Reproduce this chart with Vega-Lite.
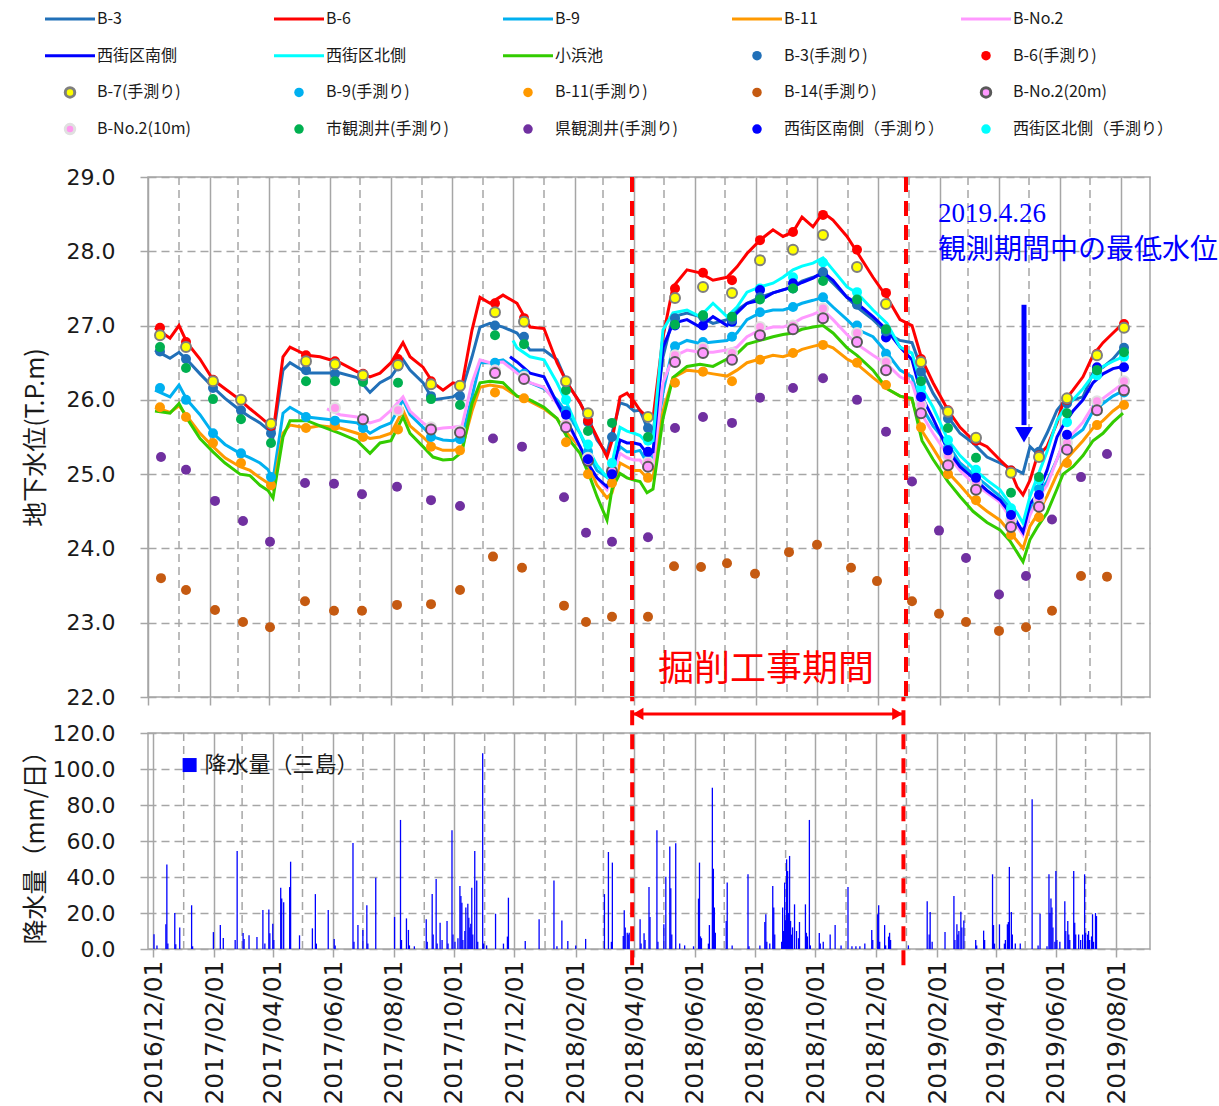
{
"$schema":"https://vega.github.io/schema/vega-lite/v6.json",
"background":"white",
"padding":{"left":22,"top":7,"right":0,"bottom":0},
"config":{
"view":{"stroke":"#A6A6A6","strokeWidth":1.5},
"axis":{"gridColor":"#A6A6A6","gridWidth":1.5,"tickColor":"#A6A6A6","tickWidth":1.5,"tickSize":8,"domain":false,"labelColor":"#1a1a1a","titleColor":"#1a1a1a","labelFont":"DejaVu Sans","titleFont":"Noto Sans CJK JP","titleFontWeight":"normal"}
},
"datasets":{
"months":[{"t":"2017/01/01"},{"t":"2017/03/01"},{"t":"2017/05/01"},{"t":"2017/07/01"},{"t":"2017/09/01"},{"t":"2017/11/01"},{"t":"2018/01/01"},{"t":"2018/03/01"},{"t":"2018/05/01"},{"t":"2018/07/01"},{"t":"2018/09/01"},{"t":"2018/11/01"},{"t":"2019/01/01"},{"t":"2019/03/01"},{"t":"2019/05/01"},{"t":"2019/07/01"}],
"cut":[{"t":"2018/03/30"},{"t":"2018/12/29"}],
"lines":[
{"t":"2016/12/08","s":"B-3","v":26.67},{"t":"2016/12/23","s":"B-3","v":26.56},{"t":"2017/01/01","s":"B-3","v":26.64},{"t":"2017/01/09","s":"B-3","v":26.54},{"t":"2017/01/22","s":"B-3","v":26.35},{"t":"2017/02/04","s":"B-3","v":26.17},{"t":"2017/02/16","s":"B-3","v":26.02},{"t":"2017/03/03","s":"B-3","v":25.86},{"t":"2017/03/13","s":"B-3","v":25.77},{"t":"2017/03/23","s":"B-3","v":25.69},{"t":"2017/03/31","s":"B-3","v":25.6},{"t":"2017/04/05","s":"B-3","v":25.5},{"t":"2017/04/15","s":"B-3","v":26.4},{"t":"2017/04/22","s":"B-3","v":26.5},{"t":"2017/05/09","s":"B-3","v":26.36},{"t":"2017/05/22","s":"B-3","v":26.36},{"t":"2017/06/11","s":"B-3","v":26.36},{"t":"2017/06/28","s":"B-3","v":26.3},{"t":"2017/07/11","s":"B-3","v":26.1},{"t":"2017/07/21","s":"B-3","v":26.23},{"t":"2017/08/01","s":"B-3","v":26.31},{"t":"2017/08/13","s":"B-3","v":26.54},{"t":"2017/08/20","s":"B-3","v":26.4},{"t":"2017/09/02","s":"B-3","v":26.23},{"t":"2017/09/12","s":"B-3","v":26.0},{"t":"2017/09/22","s":"B-3","v":26.02},{"t":"2017/10/02","s":"B-3","v":26.04},{"t":"2017/10/11","s":"B-3","v":26.13},{"t":"2017/10/21","s":"B-3","v":26.58},{"t":"2017/10/29","s":"B-3","v":26.98},{"t":"2017/11/08","s":"B-3","v":27.03},{"t":"2017/11/21","s":"B-3","v":26.98},{"t":"2017/12/05","s":"B-3","v":26.9},{"t":"2017/12/18","s":"B-3","v":26.67},{"t":"2018/01/01","s":"B-3","v":26.67},{"t":"2018/01/14","s":"B-3","v":26.54},{"t":"2018/01/24","s":"B-3","v":26.23},{"t":"2018/02/06","s":"B-3","v":25.96},{"t":"2018/02/16","s":"B-3","v":25.69},{"t":"2018/02/23","s":"B-3","v":25.46},{"t":"2018/03/05","s":"B-3","v":25.28},{"t":"2018/03/10","s":"B-3","v":25.55},{"t":"2018/03/18","s":"B-3","v":25.96},{"t":"2018/03/25","s":"B-3","v":25.93},{"t":"2018/04/01","s":"B-3","v":25.85},{"t":"2018/04/07","s":"B-3","v":25.86},{"t":"2018/04/14","s":"B-3","v":25.63},{"t":"2018/04/20","s":"B-3","v":25.55},{"t":"2018/04/30","s":"B-3","v":26.58},{"t":"2018/05/10","s":"B-3","v":27.12},{"t":"2018/05/24","s":"B-3","v":27.17},{"t":"2018/06/06","s":"B-3","v":27.12},{"t":"2018/06/19","s":"B-3","v":27.03},{"t":"2018/07/03","s":"B-3","v":27.08},{"t":"2018/07/13","s":"B-3","v":27.21},{"t":"2018/07/23","s":"B-3","v":27.3},{"t":"2018/08/05","s":"B-3","v":27.38},{"t":"2018/08/18","s":"B-3","v":27.44},{"t":"2018/08/28","s":"B-3","v":27.48},{"t":"2018/09/07","s":"B-3","v":27.52},{"t":"2018/09/16","s":"B-3","v":27.6},{"t":"2018/09/27","s":"B-3","v":27.65},{"t":"2018/10/07","s":"B-3","v":27.7},{"t":"2018/10/17","s":"B-3","v":27.57},{"t":"2018/10/31","s":"B-3","v":27.38},{"t":"2018/11/10","s":"B-3","v":27.25},{"t":"2018/11/26","s":"B-3","v":27.08},{"t":"2018/12/10","s":"B-3","v":26.9},{"t":"2018/12/23","s":"B-3","v":26.8},{"t":"2019/01/04","s":"B-3","v":26.77},{"t":"2019/01/14","s":"B-3","v":26.4},{"t":"2019/01/25","s":"B-3","v":26.09},{"t":"2019/02/09","s":"B-3","v":25.77},{"t":"2019/02/21","s":"B-3","v":25.55},{"t":"2019/03/06","s":"B-3","v":25.42},{"t":"2019/03/20","s":"B-3","v":25.23},{"t":"2019/04/02","s":"B-3","v":25.15},{"t":"2019/04/12","s":"B-3","v":25.08},{"t":"2019/04/19","s":"B-3","v":25.05},{"t":"2019/04/25","s":"B-3","v":25.01},{"t":"2019/05/02","s":"B-3","v":25.37},{"t":"2019/05/09","s":"B-3","v":25.28},{"t":"2019/05/19","s":"B-3","v":25.55},{"t":"2019/05/29","s":"B-3","v":25.86},{"t":"2019/06/04","s":"B-3","v":25.96},{"t":"2019/06/14","s":"B-3","v":26.0},{"t":"2019/06/24","s":"B-3","v":26.04},{"t":"2019/07/04","s":"B-3","v":26.36},{"t":"2019/07/14","s":"B-3","v":26.44},{"t":"2019/07/24","s":"B-3","v":26.55},{"t":"2019/08/03","s":"B-3","v":26.71},
{"t":"2016/12/08","s":"B-6","v":26.97},{"t":"2016/12/23","s":"B-6","v":26.83},{"t":"2017/01/01","s":"B-6","v":27.0},{"t":"2017/01/09","s":"B-6","v":26.77},{"t":"2017/01/22","s":"B-6","v":26.55},{"t":"2017/02/04","s":"B-6","v":26.27},{"t":"2017/02/16","s":"B-6","v":26.15},{"t":"2017/03/03","s":"B-6","v":26.0},{"t":"2017/03/13","s":"B-6","v":25.88},{"t":"2017/03/23","s":"B-6","v":25.77},{"t":"2017/03/31","s":"B-6","v":25.68},{"t":"2017/04/05","s":"B-6","v":25.55},{"t":"2017/04/15","s":"B-6","v":26.58},{"t":"2017/04/22","s":"B-6","v":26.71},{"t":"2017/05/09","s":"B-6","v":26.6},{"t":"2017/05/22","s":"B-6","v":26.58},{"t":"2017/06/11","s":"B-6","v":26.5},{"t":"2017/06/28","s":"B-6","v":26.38},{"t":"2017/07/11","s":"B-6","v":26.31},{"t":"2017/07/21","s":"B-6","v":26.36},{"t":"2017/08/01","s":"B-6","v":26.5},{"t":"2017/08/13","s":"B-6","v":26.77},{"t":"2017/08/20","s":"B-6","v":26.58},{"t":"2017/09/02","s":"B-6","v":26.44},{"t":"2017/09/12","s":"B-6","v":26.23},{"t":"2017/09/22","s":"B-6","v":26.13},{"t":"2017/10/02","s":"B-6","v":26.23},{"t":"2017/10/11","s":"B-6","v":26.2},{"t":"2017/10/21","s":"B-6","v":26.94},{"t":"2017/10/29","s":"B-6","v":27.38},{"t":"2017/11/08","s":"B-6","v":27.3},{"t":"2017/11/21","s":"B-6","v":27.41},{"t":"2017/12/05","s":"B-6","v":27.3},{"t":"2017/12/18","s":"B-6","v":26.98},{"t":"2018/01/01","s":"B-6","v":26.96},{"t":"2018/01/14","s":"B-6","v":26.5},{"t":"2018/01/24","s":"B-6","v":26.23},{"t":"2018/02/06","s":"B-6","v":25.96},{"t":"2018/02/16","s":"B-6","v":25.69},{"t":"2018/02/23","s":"B-6","v":25.5},{"t":"2018/03/05","s":"B-6","v":25.23},{"t":"2018/03/10","s":"B-6","v":25.45},{"t":"2018/03/18","s":"B-6","v":26.04},{"t":"2018/03/25","s":"B-6","v":26.09},{"t":"2018/04/01","s":"B-6","v":25.98},{"t":"2018/04/07","s":"B-6","v":25.86},{"t":"2018/04/14","s":"B-6","v":25.77},{"t":"2018/04/20","s":"B-6","v":25.75},{"t":"2018/04/30","s":"B-6","v":26.85},{"t":"2018/05/10","s":"B-6","v":27.52},{"t":"2018/05/24","s":"B-6","v":27.75},{"t":"2018/06/06","s":"B-6","v":27.71},{"t":"2018/06/19","s":"B-6","v":27.61},{"t":"2018/07/03","s":"B-6","v":27.65},{"t":"2018/07/13","s":"B-6","v":27.79},{"t":"2018/07/23","s":"B-6","v":27.97},{"t":"2018/08/05","s":"B-6","v":28.15},{"t":"2018/08/18","s":"B-6","v":28.29},{"t":"2018/08/28","s":"B-6","v":28.2},{"t":"2018/09/07","s":"B-6","v":28.26},{"t":"2018/09/16","s":"B-6","v":28.46},{"t":"2018/09/27","s":"B-6","v":28.33},{"t":"2018/10/07","s":"B-6","v":28.52},{"t":"2018/10/17","s":"B-6","v":28.42},{"t":"2018/10/31","s":"B-6","v":28.2},{"t":"2018/11/10","s":"B-6","v":27.99},{"t":"2018/11/26","s":"B-6","v":27.65},{"t":"2018/12/10","s":"B-6","v":27.38},{"t":"2018/12/23","s":"B-6","v":27.08},{"t":"2019/01/04","s":"B-6","v":27.0},{"t":"2019/01/14","s":"B-6","v":26.54},{"t":"2019/01/25","s":"B-6","v":26.23},{"t":"2019/02/09","s":"B-6","v":25.86},{"t":"2019/02/21","s":"B-6","v":25.63},{"t":"2019/03/06","s":"B-6","v":25.46},{"t":"2019/03/20","s":"B-6","v":25.37},{"t":"2019/04/02","s":"B-6","v":25.19},{"t":"2019/04/12","s":"B-6","v":25.06},{"t":"2019/04/19","s":"B-6","v":24.83},{"t":"2019/04/25","s":"B-6","v":24.72},{"t":"2019/05/02","s":"B-6","v":24.92},{"t":"2019/05/09","s":"B-6","v":25.23},{"t":"2019/05/19","s":"B-6","v":25.37},{"t":"2019/05/29","s":"B-6","v":25.69},{"t":"2019/06/04","s":"B-6","v":25.96},{"t":"2019/06/14","s":"B-6","v":26.13},{"t":"2019/06/24","s":"B-6","v":26.31},{"t":"2019/07/04","s":"B-6","v":26.6},{"t":"2019/07/14","s":"B-6","v":26.77},{"t":"2019/07/24","s":"B-6","v":26.9},{"t":"2019/08/03","s":"B-6","v":27.03},
{"t":"2016/12/08","s":"B-9","v":26.13},{"t":"2016/12/23","s":"B-9","v":26.04},{"t":"2017/01/01","s":"B-9","v":26.2},{"t":"2017/01/09","s":"B-9","v":26.0},{"t":"2017/01/22","s":"B-9","v":25.8},{"t":"2017/02/04","s":"B-9","v":25.55},{"t":"2017/02/16","s":"B-9","v":25.4},{"t":"2017/03/03","s":"B-9","v":25.28},{"t":"2017/03/13","s":"B-9","v":25.22},{"t":"2017/03/23","s":"B-9","v":25.15},{"t":"2017/03/31","s":"B-9","v":25.06},{"t":"2017/04/05","s":"B-9","v":24.92},{"t":"2017/04/15","s":"B-9","v":25.82},{"t":"2017/04/22","s":"B-9","v":25.9},{"t":"2017/05/09","s":"B-9","v":25.77},{"t":"2017/05/22","s":"B-9","v":25.75},{"t":"2017/06/11","s":"B-9","v":25.72},{"t":"2017/06/28","s":"B-9","v":25.69},{"t":"2017/07/11","s":"B-9","v":25.55},{"t":"2017/07/21","s":"B-9","v":25.63},{"t":"2017/08/01","s":"B-9","v":25.69},{"t":"2017/08/13","s":"B-9","v":26.0},{"t":"2017/08/20","s":"B-9","v":25.8},{"t":"2017/09/02","s":"B-9","v":25.63},{"t":"2017/09/12","s":"B-9","v":25.5},{"t":"2017/09/22","s":"B-9","v":25.46},{"t":"2017/10/02","s":"B-9","v":25.45},{"t":"2017/10/11","s":"B-9","v":25.5},{"t":"2017/10/21","s":"B-9","v":26.04},{"t":"2017/10/29","s":"B-9","v":26.5},{"t":"2017/11/08","s":"B-9","v":26.5},{"t":"2017/11/21","s":"B-9","v":26.54},{"t":"2017/12/05","s":"B-9","v":26.4},{"t":"2017/12/18","s":"B-9","v":26.23},{"t":"2018/01/01","s":"B-9","v":26.15},{"t":"2018/01/14","s":"B-9","v":26.0},{"t":"2018/01/24","s":"B-9","v":25.82},{"t":"2018/02/06","s":"B-9","v":25.55},{"t":"2018/02/16","s":"B-9","v":25.23},{"t":"2018/02/23","s":"B-9","v":25.05},{"t":"2018/03/05","s":"B-9","v":24.96},{"t":"2018/03/10","s":"B-9","v":25.05},{"t":"2018/03/18","s":"B-9","v":25.37},{"t":"2018/03/25","s":"B-9","v":25.3},{"t":"2018/04/01","s":"B-9","v":25.3},{"t":"2018/04/07","s":"B-9","v":25.32},{"t":"2018/04/14","s":"B-9","v":25.15},{"t":"2018/04/20","s":"B-9","v":25.18},{"t":"2018/04/30","s":"B-9","v":26.1},{"t":"2018/05/10","s":"B-9","v":26.71},{"t":"2018/05/24","s":"B-9","v":26.8},{"t":"2018/06/06","s":"B-9","v":26.76},{"t":"2018/06/19","s":"B-9","v":26.78},{"t":"2018/07/03","s":"B-9","v":26.8},{"t":"2018/07/13","s":"B-9","v":26.9},{"t":"2018/07/23","s":"B-9","v":27.08},{"t":"2018/08/05","s":"B-9","v":27.17},{"t":"2018/08/18","s":"B-9","v":27.21},{"t":"2018/08/28","s":"B-9","v":27.21},{"t":"2018/09/07","s":"B-9","v":27.25},{"t":"2018/09/16","s":"B-9","v":27.3},{"t":"2018/09/27","s":"B-9","v":27.34},{"t":"2018/10/07","s":"B-9","v":27.38},{"t":"2018/10/17","s":"B-9","v":27.25},{"t":"2018/10/31","s":"B-9","v":27.08},{"t":"2018/11/10","s":"B-9","v":26.95},{"t":"2018/11/26","s":"B-9","v":26.85},{"t":"2018/12/10","s":"B-9","v":26.63},{"t":"2018/12/23","s":"B-9","v":26.4},{"t":"2019/01/04","s":"B-9","v":26.31},{"t":"2019/01/14","s":"B-9","v":25.9},{"t":"2019/01/25","s":"B-9","v":25.65},{"t":"2019/02/09","s":"B-9","v":25.4},{"t":"2019/02/21","s":"B-9","v":25.15},{"t":"2019/03/06","s":"B-9","v":25.0},{"t":"2019/03/20","s":"B-9","v":24.85},{"t":"2019/04/02","s":"B-9","v":24.7},{"t":"2019/04/12","s":"B-9","v":24.55},{"t":"2019/04/19","s":"B-9","v":24.35},{"t":"2019/04/25","s":"B-9","v":24.2},{"t":"2019/05/02","s":"B-9","v":24.5},{"t":"2019/05/09","s":"B-9","v":24.72},{"t":"2019/05/19","s":"B-9","v":24.9},{"t":"2019/05/29","s":"B-9","v":25.2},{"t":"2019/06/04","s":"B-9","v":25.4},{"t":"2019/06/14","s":"B-9","v":25.5},{"t":"2019/06/24","s":"B-9","v":25.6},{"t":"2019/07/04","s":"B-9","v":25.85},{"t":"2019/07/14","s":"B-9","v":25.95},{"t":"2019/07/24","s":"B-9","v":26.05},{"t":"2019/08/03","s":"B-9","v":26.12},
{"t":"2016/12/08","s":"B-11","v":25.9},{"t":"2016/12/23","s":"B-11","v":25.83},{"t":"2017/01/01","s":"B-11","v":25.92},{"t":"2017/01/09","s":"B-11","v":25.78},{"t":"2017/01/22","s":"B-11","v":25.55},{"t":"2017/02/04","s":"B-11","v":25.37},{"t":"2017/02/16","s":"B-11","v":25.22},{"t":"2017/03/03","s":"B-11","v":25.1},{"t":"2017/03/13","s":"B-11","v":25.05},{"t":"2017/03/23","s":"B-11","v":24.95},{"t":"2017/03/31","s":"B-11","v":24.88},{"t":"2017/04/05","s":"B-11","v":24.8},{"t":"2017/04/15","s":"B-11","v":25.55},{"t":"2017/04/22","s":"B-11","v":25.66},{"t":"2017/05/09","s":"B-11","v":25.62},{"t":"2017/05/22","s":"B-11","v":25.65},{"t":"2017/06/11","s":"B-11","v":25.62},{"t":"2017/06/28","s":"B-11","v":25.55},{"t":"2017/07/11","s":"B-11","v":25.48},{"t":"2017/07/21","s":"B-11","v":25.5},{"t":"2017/08/01","s":"B-11","v":25.55},{"t":"2017/08/13","s":"B-11","v":25.86},{"t":"2017/08/20","s":"B-11","v":25.65},{"t":"2017/09/02","s":"B-11","v":25.5},{"t":"2017/09/12","s":"B-11","v":25.37},{"t":"2017/09/22","s":"B-11","v":25.32},{"t":"2017/10/02","s":"B-11","v":25.32},{"t":"2017/10/11","s":"B-11","v":25.35},{"t":"2017/10/21","s":"B-11","v":25.85},{"t":"2017/10/29","s":"B-11","v":26.17},{"t":"2017/11/08","s":"B-11","v":26.2},{"t":"2017/11/21","s":"B-11","v":26.17},{"t":"2017/12/05","s":"B-11","v":26.05},{"t":"2017/12/18","s":"B-11","v":25.98},{"t":"2018/01/01","s":"B-11","v":25.88},{"t":"2018/01/14","s":"B-11","v":25.75},{"t":"2018/01/24","s":"B-11","v":25.55},{"t":"2018/02/06","s":"B-11","v":25.37},{"t":"2018/02/16","s":"B-11","v":25.06},{"t":"2018/02/23","s":"B-11","v":24.85},{"t":"2018/03/05","s":"B-11","v":24.68},{"t":"2018/03/10","s":"B-11","v":24.75},{"t":"2018/03/18","s":"B-11","v":25.15},{"t":"2018/03/25","s":"B-11","v":25.1},{"t":"2018/04/01","s":"B-11","v":25.05},{"t":"2018/04/07","s":"B-11","v":25.05},{"t":"2018/04/14","s":"B-11","v":24.95},{"t":"2018/04/20","s":"B-11","v":24.95},{"t":"2018/04/30","s":"B-11","v":25.85},{"t":"2018/05/10","s":"B-11","v":26.3},{"t":"2018/05/24","s":"B-11","v":26.4},{"t":"2018/06/06","s":"B-11","v":26.38},{"t":"2018/06/19","s":"B-11","v":26.35},{"t":"2018/07/03","s":"B-11","v":26.32},{"t":"2018/07/13","s":"B-11","v":26.4},{"t":"2018/07/23","s":"B-11","v":26.5},{"t":"2018/08/05","s":"B-11","v":26.55},{"t":"2018/08/18","s":"B-11","v":26.6},{"t":"2018/08/28","s":"B-11","v":26.58},{"t":"2018/09/07","s":"B-11","v":26.62},{"t":"2018/09/16","s":"B-11","v":26.68},{"t":"2018/09/27","s":"B-11","v":26.72},{"t":"2018/10/07","s":"B-11","v":26.75},{"t":"2018/10/17","s":"B-11","v":26.7},{"t":"2018/10/31","s":"B-11","v":26.55},{"t":"2018/11/10","s":"B-11","v":26.48},{"t":"2018/11/26","s":"B-11","v":26.3},{"t":"2018/12/10","s":"B-11","v":26.15},{"t":"2018/12/23","s":"B-11","v":26.05},{"t":"2019/01/04","s":"B-11","v":26.0},{"t":"2019/01/14","s":"B-11","v":25.58},{"t":"2019/01/25","s":"B-11","v":25.35},{"t":"2019/02/09","s":"B-11","v":25.02},{"t":"2019/02/21","s":"B-11","v":24.85},{"t":"2019/03/06","s":"B-11","v":24.65},{"t":"2019/03/20","s":"B-11","v":24.5},{"t":"2019/04/02","s":"B-11","v":24.38},{"t":"2019/04/12","s":"B-11","v":24.22},{"t":"2019/04/19","s":"B-11","v":24.1},{"t":"2019/04/25","s":"B-11","v":24.0},{"t":"2019/05/02","s":"B-11","v":24.3},{"t":"2019/05/09","s":"B-11","v":24.45},{"t":"2019/05/19","s":"B-11","v":24.7},{"t":"2019/05/29","s":"B-11","v":25.0},{"t":"2019/06/04","s":"B-11","v":25.15},{"t":"2019/06/14","s":"B-11","v":25.3},{"t":"2019/06/24","s":"B-11","v":25.45},{"t":"2019/07/04","s":"B-11","v":25.62},{"t":"2019/07/14","s":"B-11","v":25.72},{"t":"2019/07/24","s":"B-11","v":25.85},{"t":"2019/08/03","s":"B-11","v":25.95},
{"t":"2017/05/29","s":"B-No.2","v":25.88},{"t":"2017/06/11","s":"B-No.2","v":25.8},{"t":"2017/06/28","s":"B-No.2","v":25.77},{"t":"2017/07/11","s":"B-No.2","v":25.69},{"t":"2017/07/21","s":"B-No.2","v":25.73},{"t":"2017/08/01","s":"B-No.2","v":25.86},{"t":"2017/08/13","s":"B-No.2","v":26.04},{"t":"2017/08/20","s":"B-No.2","v":25.85},{"t":"2017/09/02","s":"B-No.2","v":25.69},{"t":"2017/09/12","s":"B-No.2","v":25.6},{"t":"2017/09/22","s":"B-No.2","v":25.62},{"t":"2017/10/02","s":"B-No.2","v":25.63},{"t":"2017/10/11","s":"B-No.2","v":25.65},{"t":"2017/10/21","s":"B-No.2","v":26.23},{"t":"2017/10/29","s":"B-No.2","v":26.54},{"t":"2017/11/08","s":"B-No.2","v":26.5},{"t":"2017/11/21","s":"B-No.2","v":26.51},{"t":"2017/12/05","s":"B-No.2","v":26.36},{"t":"2017/12/18","s":"B-No.2","v":26.23},{"t":"2018/01/01","s":"B-No.2","v":26.17},{"t":"2018/01/14","s":"B-No.2","v":25.95},{"t":"2018/01/24","s":"B-No.2","v":25.69},{"t":"2018/02/06","s":"B-No.2","v":25.37},{"t":"2018/02/16","s":"B-No.2","v":25.1},{"t":"2018/02/23","s":"B-No.2","v":24.95},{"t":"2018/03/05","s":"B-No.2","v":24.79},{"t":"2018/03/10","s":"B-No.2","v":24.92},{"t":"2018/03/18","s":"B-No.2","v":25.28},{"t":"2018/03/25","s":"B-No.2","v":25.22},{"t":"2018/04/01","s":"B-No.2","v":25.19},{"t":"2018/04/07","s":"B-No.2","v":25.19},{"t":"2018/04/14","s":"B-No.2","v":25.06},{"t":"2018/04/20","s":"B-No.2","v":25.1},{"t":"2018/04/30","s":"B-No.2","v":26.23},{"t":"2018/05/10","s":"B-No.2","v":26.58},{"t":"2018/05/24","s":"B-No.2","v":26.67},{"t":"2018/06/06","s":"B-No.2","v":26.64},{"t":"2018/06/19","s":"B-No.2","v":26.64},{"t":"2018/07/03","s":"B-No.2","v":26.67},{"t":"2018/07/13","s":"B-No.2","v":26.71},{"t":"2018/07/23","s":"B-No.2","v":26.85},{"t":"2018/08/05","s":"B-No.2","v":26.94},{"t":"2018/08/18","s":"B-No.2","v":26.98},{"t":"2018/08/28","s":"B-No.2","v":26.98},{"t":"2018/09/07","s":"B-No.2","v":27.03},{"t":"2018/09/16","s":"B-No.2","v":27.1},{"t":"2018/09/27","s":"B-No.2","v":27.15},{"t":"2018/10/07","s":"B-No.2","v":27.21},{"t":"2018/10/17","s":"B-No.2","v":27.08},{"t":"2018/10/31","s":"B-No.2","v":26.88},{"t":"2018/11/10","s":"B-No.2","v":26.75},{"t":"2018/11/26","s":"B-No.2","v":26.6},{"t":"2018/12/10","s":"B-No.2","v":26.48},{"t":"2018/12/23","s":"B-No.2","v":26.31},{"t":"2019/01/04","s":"B-No.2","v":26.23},{"t":"2019/01/14","s":"B-No.2","v":25.8},{"t":"2019/01/25","s":"B-No.2","v":25.55},{"t":"2019/02/09","s":"B-No.2","v":25.25},{"t":"2019/02/21","s":"B-No.2","v":25.05},{"t":"2019/03/06","s":"B-No.2","v":24.88},{"t":"2019/03/20","s":"B-No.2","v":24.75},{"t":"2019/04/02","s":"B-No.2","v":24.62},{"t":"2019/04/12","s":"B-No.2","v":24.42},{"t":"2019/04/19","s":"B-No.2","v":24.3},{"t":"2019/04/25","s":"B-No.2","v":24.18},{"t":"2019/05/02","s":"B-No.2","v":24.45},{"t":"2019/05/09","s":"B-No.2","v":24.65},{"t":"2019/05/19","s":"B-No.2","v":24.85},{"t":"2019/05/29","s":"B-No.2","v":25.2},{"t":"2019/06/04","s":"B-No.2","v":25.42},{"t":"2019/06/14","s":"B-No.2","v":25.55},{"t":"2019/06/24","s":"B-No.2","v":25.7},{"t":"2019/07/04","s":"B-No.2","v":25.92},{"t":"2019/07/14","s":"B-No.2","v":26.02},{"t":"2019/07/24","s":"B-No.2","v":26.12},{"t":"2019/08/03","s":"B-No.2","v":26.22},
{"t":"2017/11/28","s":"西街区南側","v":26.58},{"t":"2017/12/05","s":"西街区南側","v":26.51},{"t":"2017/12/18","s":"西街区南側","v":26.36},{"t":"2018/01/01","s":"西街区南側","v":26.31},{"t":"2018/01/14","s":"西街区南側","v":25.96},{"t":"2018/01/24","s":"西街区南側","v":25.72},{"t":"2018/02/06","s":"西街区南側","v":25.37},{"t":"2018/02/16","s":"西街区南側","v":25.1},{"t":"2018/02/23","s":"西街区南側","v":24.95},{"t":"2018/03/05","s":"西街区南側","v":24.83},{"t":"2018/03/10","s":"西街区南側","v":25.0},{"t":"2018/03/18","s":"西街区南側","v":25.46},{"t":"2018/03/25","s":"西街区南側","v":25.42},{"t":"2018/04/01","s":"西街区南側","v":25.42},{"t":"2018/04/07","s":"西街区南側","v":25.4},{"t":"2018/04/14","s":"西街区南側","v":25.28},{"t":"2018/04/20","s":"西街区南側","v":25.3},{"t":"2018/04/30","s":"西街区南側","v":26.71},{"t":"2018/05/10","s":"西街区南側","v":27.03},{"t":"2018/05/24","s":"西街区南側","v":27.08},{"t":"2018/06/06","s":"西街区南側","v":26.98},{"t":"2018/06/19","s":"西街区南側","v":27.12},{"t":"2018/07/03","s":"西街区南側","v":27.0},{"t":"2018/07/13","s":"西街区南側","v":27.17},{"t":"2018/07/23","s":"西街区南側","v":27.3},{"t":"2018/08/05","s":"西街区南側","v":27.34},{"t":"2018/08/18","s":"西街区南側","v":27.44},{"t":"2018/08/28","s":"西街区南側","v":27.48},{"t":"2018/09/07","s":"西街区南側","v":27.52},{"t":"2018/09/16","s":"西街区南側","v":27.58},{"t":"2018/09/27","s":"西街区南側","v":27.64},{"t":"2018/10/07","s":"西街区南側","v":27.72},{"t":"2018/10/17","s":"西街区南側","v":27.61},{"t":"2018/10/31","s":"西街区南側","v":27.38},{"t":"2018/11/10","s":"西街区南側","v":27.3},{"t":"2018/11/26","s":"西街区南側","v":27.12},{"t":"2018/12/10","s":"西街区南側","v":26.94},{"t":"2018/12/23","s":"西街区南側","v":26.71},{"t":"2019/01/04","s":"西街区南側","v":26.54},{"t":"2019/01/14","s":"西街区南側","v":26.04},{"t":"2019/01/25","s":"西街区南側","v":25.75},{"t":"2019/02/09","s":"西街区南側","v":25.32},{"t":"2019/02/21","s":"西街区南側","v":25.1},{"t":"2019/03/06","s":"西街区南側","v":24.95},{"t":"2019/03/20","s":"西街区南側","v":24.78},{"t":"2019/04/02","s":"西街区南側","v":24.65},{"t":"2019/04/12","s":"西街区南側","v":24.48},{"t":"2019/04/19","s":"西街区南側","v":24.35},{"t":"2019/04/25","s":"西街区南側","v":24.22},{"t":"2019/05/02","s":"西街区南側","v":24.6},{"t":"2019/05/09","s":"西街区南側","v":24.72},{"t":"2019/05/19","s":"西街区南側","v":25.05},{"t":"2019/05/29","s":"西街区南側","v":25.5},{"t":"2019/06/04","s":"西街区南側","v":25.65},{"t":"2019/06/14","s":"西街区南側","v":25.85},{"t":"2019/06/24","s":"西街区南側","v":26.0},{"t":"2019/07/04","s":"西街区南側","v":26.23},{"t":"2019/07/14","s":"西街区南側","v":26.35},{"t":"2019/07/24","s":"西街区南側","v":26.42},{"t":"2019/08/03","s":"西街区南側","v":26.45},
{"t":"2017/12/01","s":"西街区北側","v":26.8},{"t":"2017/12/05","s":"西街区北側","v":26.7},{"t":"2017/12/18","s":"西街区北側","v":26.58},{"t":"2018/01/01","s":"西街区北側","v":26.54},{"t":"2018/01/14","s":"西街区北側","v":26.23},{"t":"2018/01/24","s":"西街区北側","v":25.95},{"t":"2018/02/06","s":"西街区北側","v":25.55},{"t":"2018/02/16","s":"西街区北側","v":25.3},{"t":"2018/02/23","s":"西街区北側","v":25.12},{"t":"2018/03/05","s":"西街区北側","v":24.96},{"t":"2018/03/10","s":"西街区北側","v":25.15},{"t":"2018/03/18","s":"西街区北側","v":25.63},{"t":"2018/03/25","s":"西街区北側","v":25.58},{"t":"2018/04/01","s":"西街区北側","v":25.55},{"t":"2018/04/07","s":"西街区北側","v":25.52},{"t":"2018/04/14","s":"西街区北側","v":25.42},{"t":"2018/04/20","s":"西街区北側","v":25.45},{"t":"2018/04/30","s":"西街区北側","v":26.94},{"t":"2018/05/10","s":"西街区北側","v":27.17},{"t":"2018/05/24","s":"西街区北側","v":27.21},{"t":"2018/06/06","s":"西街区北側","v":27.12},{"t":"2018/06/19","s":"西街区北側","v":27.3},{"t":"2018/07/03","s":"西街区北側","v":27.12},{"t":"2018/07/13","s":"西街区北側","v":27.25},{"t":"2018/07/23","s":"西街区北側","v":27.45},{"t":"2018/08/05","s":"西街区北側","v":27.52},{"t":"2018/08/18","s":"西街区北側","v":27.57},{"t":"2018/08/28","s":"西街区北側","v":27.65},{"t":"2018/09/07","s":"西街区北側","v":27.75},{"t":"2018/09/16","s":"西街区北側","v":27.8},{"t":"2018/09/27","s":"西街区北側","v":27.84},{"t":"2018/10/07","s":"西街区北側","v":27.91},{"t":"2018/10/17","s":"西街区北側","v":27.75},{"t":"2018/10/31","s":"西街区北側","v":27.52},{"t":"2018/11/10","s":"西街区北側","v":27.44},{"t":"2018/11/26","s":"西街区北側","v":27.21},{"t":"2018/12/10","s":"西街区北側","v":27.03},{"t":"2018/12/23","s":"西街区北側","v":26.71},{"t":"2019/01/04","s":"西街区北側","v":26.63},{"t":"2019/01/14","s":"西街区北側","v":26.16},{"t":"2019/01/25","s":"西街区北側","v":25.9},{"t":"2019/02/09","s":"西街区北側","v":25.46},{"t":"2019/02/21","s":"西街区北側","v":25.25},{"t":"2019/03/06","s":"西街区北側","v":25.08},{"t":"2019/03/20","s":"西街区北側","v":24.92},{"t":"2019/04/02","s":"西街区北側","v":24.79},{"t":"2019/04/12","s":"西街区北側","v":24.6},{"t":"2019/04/19","s":"西街区北側","v":24.48},{"t":"2019/04/25","s":"西街区北側","v":24.34},{"t":"2019/05/02","s":"西街区北側","v":24.7},{"t":"2019/05/09","s":"西街区北側","v":24.95},{"t":"2019/05/19","s":"西街区北側","v":25.3},{"t":"2019/05/29","s":"西街区北側","v":25.72},{"t":"2019/06/04","s":"西街区北側","v":25.85},{"t":"2019/06/14","s":"西街区北側","v":26.0},{"t":"2019/06/24","s":"西街区北側","v":26.15},{"t":"2019/07/04","s":"西街区北側","v":26.33},{"t":"2019/07/14","s":"西街区北側","v":26.45},{"t":"2019/07/24","s":"西街区北側","v":26.52},{"t":"2019/08/03","s":"西街区北側","v":26.58},
{"t":"2016/12/08","s":"小浜池","v":25.85},{"t":"2016/12/23","s":"小浜池","v":25.82},{"t":"2017/01/01","s":"小浜池","v":25.95},{"t":"2017/01/09","s":"小浜池","v":25.75},{"t":"2017/01/22","s":"小浜池","v":25.48},{"t":"2017/02/04","s":"小浜池","v":25.3},{"t":"2017/02/16","s":"小浜池","v":25.15},{"t":"2017/03/03","s":"小浜池","v":25.0},{"t":"2017/03/13","s":"小浜池","v":24.98},{"t":"2017/03/23","s":"小浜池","v":24.85},{"t":"2017/03/31","s":"小浜池","v":24.78},{"t":"2017/04/05","s":"小浜池","v":24.68},{"t":"2017/04/15","s":"小浜池","v":25.5},{"t":"2017/04/22","s":"小浜池","v":25.72},{"t":"2017/05/09","s":"小浜池","v":25.72},{"t":"2017/05/22","s":"小浜池","v":25.65},{"t":"2017/06/11","s":"小浜池","v":25.55},{"t":"2017/06/28","s":"小浜池","v":25.45},{"t":"2017/07/11","s":"小浜池","v":25.28},{"t":"2017/07/21","s":"小浜池","v":25.42},{"t":"2017/08/01","s":"小浜池","v":25.45},{"t":"2017/08/13","s":"小浜池","v":25.77},{"t":"2017/08/20","s":"小浜池","v":25.55},{"t":"2017/09/02","s":"小浜池","v":25.37},{"t":"2017/09/12","s":"小浜池","v":25.23},{"t":"2017/09/22","s":"小浜池","v":25.19},{"t":"2017/10/02","s":"小浜池","v":25.2},{"t":"2017/10/11","s":"小浜池","v":25.3},{"t":"2017/10/21","s":"小浜池","v":25.95},{"t":"2017/10/29","s":"小浜池","v":26.23},{"t":"2017/11/08","s":"小浜池","v":26.25},{"t":"2017/11/21","s":"小浜池","v":26.23},{"t":"2017/12/05","s":"小浜池","v":26.05},{"t":"2017/12/18","s":"小浜池","v":26.0},{"t":"2018/01/01","s":"小浜池","v":25.9},{"t":"2018/01/14","s":"小浜池","v":25.75},{"t":"2018/01/24","s":"小浜池","v":25.5},{"t":"2018/02/06","s":"小浜池","v":25.28},{"t":"2018/02/16","s":"小浜池","v":24.96},{"t":"2018/02/23","s":"小浜池","v":24.7},{"t":"2018/03/05","s":"小浜池","v":24.38},{"t":"2018/03/10","s":"小浜池","v":24.8},{"t":"2018/03/18","s":"小浜池","v":25.01},{"t":"2018/03/25","s":"小浜池","v":24.95},{"t":"2018/04/01","s":"小浜池","v":24.92},{"t":"2018/04/07","s":"小浜池","v":24.9},{"t":"2018/04/14","s":"小浜池","v":24.75},{"t":"2018/04/20","s":"小浜池","v":24.8},{"t":"2018/04/30","s":"小浜池","v":25.75},{"t":"2018/05/10","s":"小浜池","v":26.3},{"t":"2018/05/24","s":"小浜池","v":26.45},{"t":"2018/06/06","s":"小浜池","v":26.48},{"t":"2018/06/19","s":"小浜池","v":26.45},{"t":"2018/07/03","s":"小浜池","v":26.55},{"t":"2018/07/13","s":"小浜池","v":26.62},{"t":"2018/07/23","s":"小浜池","v":26.75},{"t":"2018/08/05","s":"小浜池","v":26.8},{"t":"2018/08/18","s":"小浜池","v":26.85},{"t":"2018/08/28","s":"小浜池","v":26.88},{"t":"2018/09/07","s":"小浜池","v":26.9},{"t":"2018/09/16","s":"小浜池","v":26.95},{"t":"2018/09/27","s":"小浜池","v":26.98},{"t":"2018/10/07","s":"小浜池","v":27.0},{"t":"2018/10/17","s":"小浜池","v":26.9},{"t":"2018/10/31","s":"小浜池","v":26.7},{"t":"2018/11/10","s":"小浜池","v":26.6},{"t":"2018/11/26","s":"小浜池","v":26.4},{"t":"2018/12/10","s":"小浜池","v":26.15},{"t":"2018/12/23","s":"小浜池","v":26.05},{"t":"2019/01/04","s":"小浜池","v":26.02},{"t":"2019/01/14","s":"小浜池","v":25.45},{"t":"2019/01/25","s":"小浜池","v":25.2},{"t":"2019/02/09","s":"小浜池","v":24.9},{"t":"2019/02/21","s":"小浜池","v":24.7},{"t":"2019/03/06","s":"小浜池","v":24.5},{"t":"2019/03/20","s":"小浜池","v":24.35},{"t":"2019/04/02","s":"小浜池","v":24.25},{"t":"2019/04/12","s":"小浜池","v":24.1},{"t":"2019/04/19","s":"小浜池","v":23.95},{"t":"2019/04/25","s":"小浜池","v":23.82},{"t":"2019/05/02","s":"小浜池","v":24.12},{"t":"2019/05/09","s":"小浜池","v":24.28},{"t":"2019/05/19","s":"小浜池","v":24.48},{"t":"2019/05/29","s":"小浜池","v":24.8},{"t":"2019/06/04","s":"小浜池","v":25.0},{"t":"2019/06/14","s":"小浜池","v":25.1},{"t":"2019/06/24","s":"小浜池","v":25.25},{"t":"2019/07/04","s":"小浜池","v":25.45},{"t":"2019/07/14","s":"小浜池","v":25.55},{"t":"2019/07/24","s":"小浜池","v":25.7},{"t":"2019/08/03","s":"小浜池","v":25.82}
],
"pts":[
{"t":"2016/12/14","s":"B-14(手測り)","v":23.6},{"t":"2017/01/08","s":"B-14(手測り)","v":23.44},{"t":"2017/02/06","s":"B-14(手測り)","v":23.17},{"t":"2017/03/06","s":"B-14(手測り)","v":23.01},{"t":"2017/04/02","s":"B-14(手測り)","v":22.94},{"t":"2017/05/07","s":"B-14(手測り)","v":23.29},{"t":"2017/06/05","s":"B-14(手測り)","v":23.16},{"t":"2017/07/03","s":"B-14(手測り)","v":23.16},{"t":"2017/08/07","s":"B-14(手測り)","v":23.24},{"t":"2017/09/10","s":"B-14(手測り)","v":23.25},{"t":"2017/10/09","s":"B-14(手測り)","v":23.44},{"t":"2017/11/11","s":"B-14(手測り)","v":23.89},{"t":"2017/12/10","s":"B-14(手測り)","v":23.74},{"t":"2018/01/21","s":"B-14(手測り)","v":23.23},{"t":"2018/02/12","s":"B-14(手測り)","v":23.01},{"t":"2018/03/10","s":"B-14(手測り)","v":23.08},{"t":"2018/04/15","s":"B-14(手測り)","v":23.08},{"t":"2018/05/11","s":"B-14(手測り)","v":23.76},{"t":"2018/06/07","s":"B-14(手測り)","v":23.75},{"t":"2018/07/03","s":"B-14(手測り)","v":23.8},{"t":"2018/07/31","s":"B-14(手測り)","v":23.66},{"t":"2018/09/03","s":"B-14(手測り)","v":23.95},{"t":"2018/10/01","s":"B-14(手測り)","v":24.05},{"t":"2018/11/04","s":"B-14(手測り)","v":23.74},{"t":"2018/11/30","s":"B-14(手測り)","v":23.56},{"t":"2019/01/04","s":"B-14(手測り)","v":23.29},{"t":"2019/01/31","s":"B-14(手測り)","v":23.12},{"t":"2019/02/27","s":"B-14(手測り)","v":23.01},{"t":"2019/04/01","s":"B-14(手測り)","v":22.89},{"t":"2019/04/28","s":"B-14(手測り)","v":22.94},{"t":"2019/05/24","s":"B-14(手測り)","v":23.16},{"t":"2019/06/22","s":"B-14(手測り)","v":23.63},{"t":"2019/07/18","s":"B-14(手測り)","v":23.62},
{"t":"2016/12/14","s":"県観測井(手測り)","v":25.23},{"t":"2017/01/08","s":"県観測井(手測り)","v":25.06},{"t":"2017/02/06","s":"県観測井(手測り)","v":24.64},{"t":"2017/03/06","s":"県観測井(手測り)","v":24.37},{"t":"2017/04/02","s":"県観測井(手測り)","v":24.09},{"t":"2017/05/07","s":"県観測井(手測り)","v":24.88},{"t":"2017/06/05","s":"県観測井(手測り)","v":24.87},{"t":"2017/07/03","s":"県観測井(手測り)","v":24.73},{"t":"2017/08/07","s":"県観測井(手測り)","v":24.83},{"t":"2017/09/10","s":"県観測井(手測り)","v":24.65},{"t":"2017/10/09","s":"県観測井(手測り)","v":24.57},{"t":"2017/11/11","s":"県観測井(手測り)","v":25.48},{"t":"2017/12/10","s":"県観測井(手測り)","v":25.37},{"t":"2018/01/21","s":"県観測井(手測り)","v":24.69},{"t":"2018/02/12","s":"県観測井(手測り)","v":24.21},{"t":"2018/03/10","s":"県観測井(手測り)","v":24.09},{"t":"2018/04/15","s":"県観測井(手測り)","v":24.15},{"t":"2018/05/12","s":"県観測井(手測り)","v":25.62},{"t":"2018/06/09","s":"県観測井(手測り)","v":25.77},{"t":"2018/07/08","s":"県観測井(手測り)","v":25.69},{"t":"2018/08/05","s":"県観測井(手測り)","v":26.03},{"t":"2018/09/07","s":"県観測井(手測り)","v":26.16},{"t":"2018/10/07","s":"県観測井(手測り)","v":26.29},{"t":"2018/11/10","s":"県観測井(手測り)","v":26.0},{"t":"2018/12/09","s":"県観測井(手測り)","v":25.57},{"t":"2019/01/04","s":"県観測井(手測り)","v":24.9},{"t":"2019/01/31","s":"県観測井(手測り)","v":24.24},{"t":"2019/02/27","s":"県観測井(手測り)","v":23.87},{"t":"2019/04/01","s":"県観測井(手測り)","v":23.38},{"t":"2019/04/28","s":"県観測井(手測り)","v":23.63},{"t":"2019/05/24","s":"県観測井(手測り)","v":24.39},{"t":"2019/06/22","s":"県観測井(手測り)","v":24.96},{"t":"2019/07/18","s":"県観測井(手測り)","v":25.27},
{"t":"2016/12/13","s":"B-11(手測り)","v":25.9},{"t":"2017/01/08","s":"B-11(手測り)","v":25.77},{"t":"2017/02/04","s":"B-11(手測り)","v":25.42},{"t":"2017/03/04","s":"B-11(手測り)","v":25.15},{"t":"2017/04/03","s":"B-11(手測り)","v":24.85},{"t":"2017/05/08","s":"B-11(手測り)","v":25.62},{"t":"2017/06/06","s":"B-11(手測り)","v":25.65},{"t":"2017/07/04","s":"B-11(手測り)","v":25.5},{"t":"2017/08/08","s":"B-11(手測り)","v":25.6},{"t":"2017/09/10","s":"B-11(手測り)","v":25.37},{"t":"2017/10/09","s":"B-11(手測り)","v":25.32},{"t":"2017/11/13","s":"B-11(手測り)","v":26.1},{"t":"2017/12/12","s":"B-11(手測り)","v":26.02},{"t":"2018/01/23","s":"B-11(手測り)","v":25.43},{"t":"2018/02/14","s":"B-11(手測り)","v":25.0},{"t":"2018/03/10","s":"B-11(手測り)","v":24.88},{"t":"2018/04/15","s":"B-11(手測り)","v":24.95},{"t":"2018/05/12","s":"B-11(手測り)","v":26.23},{"t":"2018/06/09","s":"B-11(手測り)","v":26.38},{"t":"2018/07/08","s":"B-11(手測り)","v":26.25},{"t":"2018/08/05","s":"B-11(手測り)","v":26.54},{"t":"2018/09/07","s":"B-11(手測り)","v":26.63},{"t":"2018/10/07","s":"B-11(手測り)","v":26.74},{"t":"2018/11/10","s":"B-11(手測り)","v":26.5},{"t":"2018/12/09","s":"B-11(手測り)","v":26.2},{"t":"2019/01/13","s":"B-11(手測り)","v":25.63},{"t":"2019/02/09","s":"B-11(手測り)","v":25.0},{"t":"2019/03/09","s":"B-11(手測り)","v":24.65},{"t":"2019/04/13","s":"B-11(手測り)","v":24.18},{"t":"2019/05/11","s":"B-11(手測り)","v":24.42},{"t":"2019/06/08","s":"B-11(手測り)","v":25.15},{"t":"2019/07/08","s":"B-11(手測り)","v":25.66},{"t":"2019/08/04","s":"B-11(手測り)","v":25.93},
{"t":"2016/12/13","s":"B-9(手測り)","v":26.16},{"t":"2017/01/08","s":"B-9(手測り)","v":26.0},{"t":"2017/02/04","s":"B-9(手測り)","v":25.55},{"t":"2017/03/04","s":"B-9(手測り)","v":25.28},{"t":"2017/04/03","s":"B-9(手測り)","v":24.96},{"t":"2017/05/08","s":"B-9(手測り)","v":25.77},{"t":"2017/06/06","s":"B-9(手測り)","v":25.72},{"t":"2017/07/04","s":"B-9(手測り)","v":25.62},{"t":"2017/08/08","s":"B-9(手測り)","v":25.85},{"t":"2017/09/10","s":"B-9(手測り)","v":25.5},{"t":"2017/10/09","s":"B-9(手測り)","v":25.47},{"t":"2017/11/13","s":"B-9(手測り)","v":26.5},{"t":"2017/12/12","s":"B-9(手測り)","v":26.35},{"t":"2018/01/23","s":"B-9(手測り)","v":25.85},{"t":"2018/02/14","s":"B-9(手測り)","v":25.3},{"t":"2018/03/10","s":"B-9(手測り)","v":25.05},{"t":"2018/04/15","s":"B-9(手測り)","v":25.2},{"t":"2018/05/12","s":"B-9(手測り)","v":26.72},{"t":"2018/06/09","s":"B-9(手測り)","v":26.78},{"t":"2018/07/08","s":"B-9(手測り)","v":26.85},{"t":"2018/08/05","s":"B-9(手測り)","v":27.18},{"t":"2018/09/07","s":"B-9(手測り)","v":27.25},{"t":"2018/10/07","s":"B-9(手測り)","v":27.38},{"t":"2018/11/10","s":"B-9(手測り)","v":27.0},{"t":"2018/12/09","s":"B-9(手測り)","v":26.62},{"t":"2019/01/13","s":"B-9(手測り)","v":25.95},{"t":"2019/02/09","s":"B-9(手測り)","v":25.35},{"t":"2019/03/09","s":"B-9(手測り)","v":24.95},{"t":"2019/04/13","s":"B-9(手測り)","v":24.5},{"t":"2019/05/11","s":"B-9(手測り)","v":24.8},{"t":"2019/06/08","s":"B-9(手測り)","v":25.45},{"t":"2019/07/08","s":"B-9(手測り)","v":25.9},{"t":"2019/08/04","s":"B-9(手測り)","v":26.1},
{"t":"2017/06/06","s":"B-No.2(10m)","v":25.89},{"t":"2017/08/08","s":"B-No.2(10m)","v":25.86},{"t":"2017/09/10","s":"B-No.2(10m)","v":25.63},{"t":"2017/10/09","s":"B-No.2(10m)","v":25.58},{"t":"2017/11/13","s":"B-No.2(10m)","v":26.4},{"t":"2017/12/12","s":"B-No.2(10m)","v":26.31},{"t":"2018/01/23","s":"B-No.2(10m)","v":25.67},{"t":"2018/02/14","s":"B-No.2(10m)","v":25.22},{"t":"2018/03/10","s":"B-No.2(10m)","v":25.08},{"t":"2018/04/15","s":"B-No.2(10m)","v":25.16},{"t":"2018/05/12","s":"B-No.2(10m)","v":26.6},{"t":"2018/06/09","s":"B-No.2(10m)","v":26.7},{"t":"2018/07/08","s":"B-No.2(10m)","v":26.63},{"t":"2018/08/05","s":"B-No.2(10m)","v":26.98},{"t":"2018/09/07","s":"B-No.2(10m)","v":27.0},{"t":"2018/10/07","s":"B-No.2(10m)","v":27.23},{"t":"2018/11/10","s":"B-No.2(10m)","v":26.9},{"t":"2018/12/09","s":"B-No.2(10m)","v":26.51},{"t":"2019/01/13","s":"B-No.2(10m)","v":25.93},{"t":"2019/02/09","s":"B-No.2(10m)","v":25.25},{"t":"2019/03/09","s":"B-No.2(10m)","v":24.88},{"t":"2019/04/13","s":"B-No.2(10m)","v":24.38},{"t":"2019/05/11","s":"B-No.2(10m)","v":24.66},{"t":"2019/06/08","s":"B-No.2(10m)","v":25.42},{"t":"2019/07/08","s":"B-No.2(10m)","v":25.98},{"t":"2019/08/04","s":"B-No.2(10m)","v":26.25},
{"t":"2017/07/04","s":"B-No.2(20m)","v":25.74},{"t":"2017/09/10","s":"B-No.2(20m)","v":25.6},{"t":"2017/10/09","s":"B-No.2(20m)","v":25.56},{"t":"2017/11/13","s":"B-No.2(20m)","v":26.36},{"t":"2017/12/12","s":"B-No.2(20m)","v":26.28},{"t":"2018/01/23","s":"B-No.2(20m)","v":25.63},{"t":"2018/02/14","s":"B-No.2(20m)","v":25.18},{"t":"2018/03/10","s":"B-No.2(20m)","v":25.04},{"t":"2018/04/15","s":"B-No.2(20m)","v":25.1},{"t":"2018/05/12","s":"B-No.2(20m)","v":26.51},{"t":"2018/06/09","s":"B-No.2(20m)","v":26.63},{"t":"2018/07/08","s":"B-No.2(20m)","v":26.54},{"t":"2018/08/05","s":"B-No.2(20m)","v":26.87},{"t":"2018/09/07","s":"B-No.2(20m)","v":26.95},{"t":"2018/10/07","s":"B-No.2(20m)","v":27.1},{"t":"2018/11/10","s":"B-No.2(20m)","v":26.78},{"t":"2018/12/09","s":"B-No.2(20m)","v":26.4},{"t":"2019/01/13","s":"B-No.2(20m)","v":25.82},{"t":"2019/02/09","s":"B-No.2(20m)","v":25.12},{"t":"2019/03/09","s":"B-No.2(20m)","v":24.79},{"t":"2019/04/13","s":"B-No.2(20m)","v":24.29},{"t":"2019/05/11","s":"B-No.2(20m)","v":24.56},{"t":"2019/06/08","s":"B-No.2(20m)","v":25.33},{"t":"2019/07/08","s":"B-No.2(20m)","v":25.86},{"t":"2019/08/04","s":"B-No.2(20m)","v":26.13},
{"t":"2018/01/23","s":"西街区北側（手測り）","v":26.0},{"t":"2018/02/14","s":"西街区北側（手測り）","v":25.4},{"t":"2018/03/10","s":"西街区北側（手測り）","v":25.15},{"t":"2018/04/15","s":"西街区北側（手測り）","v":25.45},{"t":"2018/05/12","s":"西街区北側（手測り）","v":27.1},{"t":"2018/06/09","s":"西街区北側（手測り）","v":27.14},{"t":"2018/07/08","s":"西街区北側（手測り）","v":27.05},{"t":"2018/08/05","s":"西街区北側（手測り）","v":27.5},{"t":"2018/09/07","s":"西街区北側（手測り）","v":27.65},{"t":"2018/10/07","s":"西街区北側（手測り）","v":27.85},{"t":"2018/11/10","s":"西街区北側（手測り）","v":27.45},{"t":"2018/12/09","s":"西街区北側（手測り）","v":26.91},{"t":"2019/01/13","s":"西街区北側（手測り）","v":26.16},{"t":"2019/02/09","s":"西街区北側（手測り）","v":25.46},{"t":"2019/03/09","s":"西街区北側（手測り）","v":25.06},{"t":"2019/04/13","s":"西街区北側（手測り）","v":24.54},{"t":"2019/05/11","s":"西街区北側（手測り）","v":24.92},{"t":"2019/06/08","s":"西街区北側（手測り）","v":25.7},{"t":"2019/07/08","s":"西街区北側（手測り）","v":26.33},{"t":"2019/08/04","s":"西街区北側（手測り）","v":26.58},
{"t":"2018/01/23","s":"西街区南側（手測り）","v":25.8},{"t":"2018/02/14","s":"西街区南側（手測り）","v":25.2},{"t":"2018/03/10","s":"西街区南側（手測り）","v":25.0},{"t":"2018/04/15","s":"西街区南側（手測り）","v":25.3},{"t":"2018/05/12","s":"西街区南側（手測り）","v":27.0},{"t":"2018/06/09","s":"西街区南側（手測り）","v":27.0},{"t":"2018/07/08","s":"西街区南側（手測り）","v":27.05},{"t":"2018/08/05","s":"西街区南側（手測り）","v":27.48},{"t":"2018/09/07","s":"西街区南側（手測り）","v":27.57},{"t":"2018/10/07","s":"西街区南側（手測り）","v":27.7},{"t":"2018/11/10","s":"西街区南側（手測り）","v":27.3},{"t":"2018/12/09","s":"西街区南側（手測り）","v":26.84},{"t":"2019/01/13","s":"西街区南側（手測り）","v":26.04},{"t":"2019/02/09","s":"西街区南側（手測り）","v":25.32},{"t":"2019/03/09","s":"西街区南側（手測り）","v":24.95},{"t":"2019/04/13","s":"西街区南側（手測り）","v":24.45},{"t":"2019/05/11","s":"西街区南側（手測り）","v":24.72},{"t":"2019/06/08","s":"西街区南側（手測り）","v":25.53},{"t":"2019/07/08","s":"西街区南側（手測り）","v":26.44},{"t":"2019/08/04","s":"西街区南側（手測り）","v":26.44},
{"t":"2016/12/13","s":"B-3(手測り)","v":26.65},{"t":"2017/01/08","s":"B-3(手測り)","v":26.55},{"t":"2017/02/04","s":"B-3(手測り)","v":26.16},{"t":"2017/03/04","s":"B-3(手測り)","v":25.86},{"t":"2017/04/03","s":"B-3(手測り)","v":25.55},{"t":"2017/05/08","s":"B-3(手測り)","v":26.4},{"t":"2017/06/06","s":"B-3(手測り)","v":26.35},{"t":"2017/07/04","s":"B-3(手測り)","v":26.28},{"t":"2017/08/08","s":"B-3(手測り)","v":26.45},{"t":"2017/09/10","s":"B-3(手測り)","v":26.05},{"t":"2017/10/09","s":"B-3(手測り)","v":26.05},{"t":"2017/11/13","s":"B-3(手測り)","v":27.0},{"t":"2017/12/12","s":"B-3(手測り)","v":26.85},{"t":"2018/01/23","s":"B-3(手測り)","v":26.23},{"t":"2018/02/14","s":"B-3(手測り)","v":25.7},{"t":"2018/03/10","s":"B-3(手測り)","v":25.5},{"t":"2018/04/15","s":"B-3(手測り)","v":25.62},{"t":"2018/05/12","s":"B-3(手測り)","v":27.1},{"t":"2018/06/09","s":"B-3(手測り)","v":27.12},{"t":"2018/07/08","s":"B-3(手測り)","v":27.08},{"t":"2018/08/05","s":"B-3(手測り)","v":27.38},{"t":"2018/09/07","s":"B-3(手測り)","v":27.5},{"t":"2018/10/07","s":"B-3(手測り)","v":27.72},{"t":"2018/11/10","s":"B-3(手測り)","v":27.28},{"t":"2018/12/09","s":"B-3(手測り)","v":26.92},{"t":"2019/01/13","s":"B-3(手測り)","v":26.38},{"t":"2019/02/09","s":"B-3(手測り)","v":25.75},{"t":"2019/03/09","s":"B-3(手測り)","v":25.45},{"t":"2019/04/13","s":"B-3(手測り)","v":25.05},{"t":"2019/05/11","s":"B-3(手測り)","v":25.3},{"t":"2019/06/08","s":"B-3(手測り)","v":25.95},{"t":"2019/07/08","s":"B-3(手測り)","v":26.4},{"t":"2019/08/04","s":"B-3(手測り)","v":26.7},
{"t":"2016/12/13","s":"市観測井(手測り)","v":26.71},{"t":"2017/01/08","s":"市観測井(手測り)","v":26.43},{"t":"2017/02/04","s":"市観測井(手測り)","v":26.01},{"t":"2017/03/04","s":"市観測井(手測り)","v":25.74},{"t":"2017/04/03","s":"市観測井(手測り)","v":25.42},{"t":"2017/05/08","s":"市観測井(手測り)","v":26.25},{"t":"2017/06/06","s":"市観測井(手測り)","v":26.25},{"t":"2017/07/04","s":"市観測井(手測り)","v":26.24},{"t":"2017/08/08","s":"市観測井(手測り)","v":26.23},{"t":"2017/09/10","s":"市観測井(手測り)","v":26.01},{"t":"2017/10/09","s":"市観測井(手測り)","v":25.93},{"t":"2017/11/13","s":"市観測井(手測り)","v":26.87},{"t":"2017/12/12","s":"市観測井(手測り)","v":26.75},{"t":"2018/01/23","s":"市観測井(手測り)","v":26.13},{"t":"2018/02/14","s":"市観測井(手測り)","v":25.58},{"t":"2018/03/10","s":"市観測井(手測り)","v":25.69},{"t":"2018/04/15","s":"市観測井(手測り)","v":25.5},{"t":"2018/05/12","s":"市観測井(手測り)","v":27.01},{"t":"2018/06/09","s":"市観測井(手測り)","v":27.14},{"t":"2018/07/08","s":"市観測井(手測り)","v":27.12},{"t":"2018/08/05","s":"市観測井(手測り)","v":27.35},{"t":"2018/09/07","s":"市観測井(手測り)","v":27.5},{"t":"2018/10/07","s":"市観測井(手測り)","v":27.6},{"t":"2018/11/10","s":"市観測井(手測り)","v":27.35},{"t":"2018/12/09","s":"市観測井(手測り)","v":26.95},{"t":"2019/01/13","s":"市観測井(手測り)","v":26.25},{"t":"2019/02/09","s":"市観測井(手測り)","v":25.62},{"t":"2019/03/09","s":"市観測井(手測り)","v":25.22},{"t":"2019/04/13","s":"市観測井(手測り)","v":24.75},{"t":"2019/05/11","s":"市観測井(手測り)","v":24.96},{"t":"2019/06/08","s":"市観測井(手測り)","v":25.82},{"t":"2019/07/08","s":"市観測井(手測り)","v":26.4},{"t":"2019/08/04","s":"市観測井(手測り)","v":26.64},
{"t":"2016/12/13","s":"B-6(手測り)","v":26.97},{"t":"2017/01/08","s":"B-6(手測り)","v":26.78},{"t":"2017/02/04","s":"B-6(手測り)","v":26.27},{"t":"2017/03/04","s":"B-6(手測り)","v":26.0},{"t":"2017/04/03","s":"B-6(手測り)","v":25.65},{"t":"2017/05/08","s":"B-6(手測り)","v":26.6},{"t":"2017/06/06","s":"B-6(手測り)","v":26.52},{"t":"2017/07/04","s":"B-6(手測り)","v":26.35},{"t":"2017/08/08","s":"B-6(手測り)","v":26.55},{"t":"2017/09/10","s":"B-6(手測り)","v":26.25},{"t":"2017/10/09","s":"B-6(手測り)","v":26.2},{"t":"2017/11/13","s":"B-6(手測り)","v":27.3},{"t":"2017/12/12","s":"B-6(手測り)","v":27.1},{"t":"2018/01/23","s":"B-6(手測り)","v":26.25},{"t":"2018/02/14","s":"B-6(手測り)","v":25.72},{"t":"2018/04/15","s":"B-6(手測り)","v":25.77},{"t":"2018/05/12","s":"B-6(手測り)","v":27.5},{"t":"2018/06/09","s":"B-6(手測り)","v":27.71},{"t":"2018/07/08","s":"B-6(手測り)","v":27.61},{"t":"2018/08/05","s":"B-6(手測り)","v":28.15},{"t":"2018/09/07","s":"B-6(手測り)","v":28.26},{"t":"2018/10/07","s":"B-6(手測り)","v":28.49},{"t":"2018/11/10","s":"B-6(手測り)","v":28.02},{"t":"2018/12/09","s":"B-6(手測り)","v":27.44},{"t":"2019/01/13","s":"B-6(手測り)","v":26.55},{"t":"2019/02/09","s":"B-6(手測り)","v":25.86},{"t":"2019/03/09","s":"B-6(手測り)","v":25.45},{"t":"2019/04/13","s":"B-6(手測り)","v":25.05},{"t":"2019/05/11","s":"B-6(手測り)","v":25.25},{"t":"2019/06/08","s":"B-6(手測り)","v":26.0},{"t":"2019/07/08","s":"B-6(手測り)","v":26.62},{"t":"2019/08/04","s":"B-6(手測り)","v":27.02},
{"t":"2016/12/13","s":"B-7(手測り)","v":26.87},{"t":"2017/01/08","s":"B-7(手測り)","v":26.71},{"t":"2017/02/04","s":"B-7(手測り)","v":26.25},{"t":"2017/03/04","s":"B-7(手測り)","v":26.0},{"t":"2017/04/03","s":"B-7(手測り)","v":25.68},{"t":"2017/05/08","s":"B-7(手測り)","v":26.52},{"t":"2017/06/06","s":"B-7(手測り)","v":26.48},{"t":"2017/07/04","s":"B-7(手測り)","v":26.33},{"t":"2017/08/08","s":"B-7(手測り)","v":26.47},{"t":"2017/09/10","s":"B-7(手測り)","v":26.21},{"t":"2017/10/09","s":"B-7(手測り)","v":26.19},{"t":"2017/11/13","s":"B-7(手測り)","v":27.18},{"t":"2017/12/12","s":"B-7(手測り)","v":27.05},{"t":"2018/01/23","s":"B-7(手測り)","v":26.25},{"t":"2018/02/14","s":"B-7(手測り)","v":25.82},{"t":"2018/04/15","s":"B-7(手測り)","v":25.77},{"t":"2018/05/12","s":"B-7(手測り)","v":27.37},{"t":"2018/06/09","s":"B-7(手測り)","v":27.52},{"t":"2018/07/08","s":"B-7(手測り)","v":27.44},{"t":"2018/08/05","s":"B-7(手測り)","v":27.88},{"t":"2018/09/07","s":"B-7(手測り)","v":28.02},{"t":"2018/10/07","s":"B-7(手測り)","v":28.22},{"t":"2018/11/10","s":"B-7(手測り)","v":27.79},{"t":"2018/12/09","s":"B-7(手測り)","v":27.29},{"t":"2019/01/13","s":"B-7(手測り)","v":26.51},{"t":"2019/02/09","s":"B-7(手測り)","v":25.84},{"t":"2019/03/09","s":"B-7(手測り)","v":25.49},{"t":"2019/04/13","s":"B-7(手測り)","v":25.02},{"t":"2019/05/11","s":"B-7(手測り)","v":25.23},{"t":"2019/06/08","s":"B-7(手測り)","v":26.02},{"t":"2019/07/08","s":"B-7(手測り)","v":26.6},{"t":"2019/08/04","s":"B-7(手測り)","v":26.97}
],
"rain":[
{"t":"2016/12/02","v":8.2},{"t":"2016/12/05","v":2},{"t":"2016/12/14","v":13.7},{"t":"2016/12/15","v":47},{"t":"2016/12/16","v":3},{"t":"2016/12/23","v":20},{"t":"2016/12/24","v":2.7},{"t":"2016/12/28","v":11.9},
{"t":"2017/01/09","v":24.3},{"t":"2017/01/10","v":1.5},{"t":"2017/01/31","v":9.4},{"t":"2017/02/07","v":13.3},{"t":"2017/02/10","v":6.1},{"t":"2017/02/22","v":5},{"t":"2017/02/24","v":54.4},{"t":"2017/03/02","v":8.9},{"t":"2017/03/03","v":5.6},{"t":"2017/03/08","v":7.6},{"t":"2017/03/16","v":6.7},{"t":"2017/03/22","v":21.7},{"t":"2017/03/24","v":3},{"t":"2017/03/28","v":22},{"t":"2017/03/29","v":8.7},{"t":"2017/04/01","v":14},{"t":"2017/04/02","v":5},{"t":"2017/04/09","v":34},{"t":"2017/04/10","v":28},{"t":"2017/04/12","v":26},{"t":"2017/04/18","v":34.4},{"t":"2017/04/19","v":48.5},{"t":"2017/04/28","v":7.6},{"t":"2017/05/11","v":11.5},{"t":"2017/05/14","v":30.5},{"t":"2017/05/15","v":3},{"t":"2017/05/27","v":21.7},{"t":"2017/06/02","v":5.6},{"t":"2017/06/03","v":2},{"t":"2017/06/21","v":58.9},{"t":"2017/06/22","v":4},{"t":"2017/06/26","v":13.3},{"t":"2017/07/01","v":10.6},{"t":"2017/07/05","v":24.3},{"t":"2017/07/06","v":3},{"t":"2017/07/14","v":39.6},{"t":"2017/08/02","v":17.8},{"t":"2017/08/08","v":71.7},{"t":"2017/08/09","v":5},{"t":"2017/08/14","v":17},{"t":"2017/08/16","v":10.6},{"t":"2017/08/17","v":2},{"t":"2017/08/22","v":1.5},{"t":"2017/09/03","v":16.5},{"t":"2017/09/04","v":4},{"t":"2017/09/09","v":30.5},{"t":"2017/09/10","v":8},{"t":"2017/09/13","v":38.9},{"t":"2017/09/14","v":3},{"t":"2017/09/17","v":14.6},{"t":"2017/09/19","v":5},{"t":"2017/09/24","v":15.6},{"t":"2017/09/25","v":3},{"t":"2017/09/29","v":66},{"t":"2017/09/30","v":8},{"t":"2017/10/02","v":4},{"t":"2017/10/05","v":6},{"t":"2017/10/07","v":35},{"t":"2017/10/08","v":29.4},{"t":"2017/10/09","v":25.7},{"t":"2017/10/10","v":5},{"t":"2017/10/12","v":10},{"t":"2017/10/13","v":23},{"t":"2017/10/15","v":25.2},{"t":"2017/10/16","v":17.4},{"t":"2017/10/17","v":12},{"t":"2017/10/18","v":14},{"t":"2017/10/19","v":34},{"t":"2017/10/20","v":8},{"t":"2017/10/22","v":54.4},{"t":"2017/10/24","v":38.1},{"t":"2017/10/25","v":4},{"t":"2017/10/30","v":108.7},{"t":"2017/10/31","v":3},{"t":"2017/11/03","v":2},{"t":"2017/11/12","v":19.6},{"t":"2017/11/20","v":3},{"t":"2017/11/24","v":6.9},{"t":"2017/11/25","v":28.5},{"t":"2017/12/12","v":4.4},{"t":"2017/12/26","v":16.5},
{"t":"2018/01/10","v":38.1},{"t":"2018/01/13","v":1.5},{"t":"2018/01/18","v":15.9},{"t":"2018/01/24","v":4.4},{"t":"2018/02/01","v":2},{"t":"2018/02/11","v":5.6},{"t":"2018/03/02","v":30.5},{"t":"2018/03/06","v":53.9},{"t":"2018/03/09","v":4},{"t":"2018/03/10","v":48},{"t":"2018/03/21","v":7.2},{"t":"2018/03/22","v":21.5},{"t":"2018/03/23","v":12},{"t":"2018/03/25","v":9},{"t":"2018/03/26","v":8},{"t":"2018/03/27","v":9},{"t":"2018/04/07","v":16.5},{"t":"2018/04/08","v":3},{"t":"2018/04/11","v":8.7},{"t":"2018/04/12","v":5},{"t":"2018/04/16","v":34.4},{"t":"2018/04/17","v":17.8},{"t":"2018/04/24","v":66},{"t":"2018/04/25","v":4},{"t":"2018/05/01","v":13.7},{"t":"2018/05/03","v":40.2},{"t":"2018/05/07","v":56.9},{"t":"2018/05/08","v":33.7},{"t":"2018/05/09","v":8},{"t":"2018/05/13","v":58.7},{"t":"2018/05/17","v":3},{"t":"2018/05/22","v":2},{"t":"2018/05/31","v":1.5},{"t":"2018/06/05","v":28},{"t":"2018/06/06","v":48},{"t":"2018/06/07","v":7},{"t":"2018/06/08","v":6},{"t":"2018/06/15","v":3},{"t":"2018/06/16","v":13.3},{"t":"2018/06/19","v":89.6},{"t":"2018/06/20","v":44.6},{"t":"2018/06/21","v":23},{"t":"2018/06/22","v":9},{"t":"2018/07/03","v":15.6},{"t":"2018/07/04","v":36.9},{"t":"2018/07/09","v":2},{"t":"2018/07/25","v":41.5},{"t":"2018/07/26","v":1.5},{"t":"2018/08/06","v":2},{"t":"2018/08/11","v":15},{"t":"2018/08/12","v":19.3},{"t":"2018/08/13","v":4},{"t":"2018/08/16","v":3},{"t":"2018/08/19","v":35},{"t":"2018/08/20","v":23},{"t":"2018/08/21","v":8},{"t":"2018/08/28","v":4},{"t":"2018/08/29","v":23},{"t":"2018/08/30","v":10},{"t":"2018/08/31","v":36.9},{"t":"2018/09/01","v":16},{"t":"2018/09/02","v":49.8},{"t":"2018/09/03","v":43.3},{"t":"2018/09/04","v":20},{"t":"2018/09/05","v":51.7},{"t":"2018/09/06","v":15.6},{"t":"2018/09/07","v":8},{"t":"2018/09/08","v":12},{"t":"2018/09/10","v":24.8},{"t":"2018/09/12","v":10},{"t":"2018/09/14","v":6},{"t":"2018/09/15","v":15},{"t":"2018/09/21","v":24.8},{"t":"2018/09/22","v":9},{"t":"2018/09/23","v":7},{"t":"2018/09/25","v":71.7},{"t":"2018/09/26","v":2},{"t":"2018/10/05","v":8.9},{"t":"2018/10/06","v":3},{"t":"2018/10/09","v":4},{"t":"2018/10/16","v":8},{"t":"2018/10/21","v":13.3},{"t":"2018/10/27","v":2},{"t":"2018/11/03","v":34.4},{"t":"2018/11/07","v":1.5},{"t":"2018/11/11","v":1.5},{"t":"2018/11/15","v":1.5},{"t":"2018/11/20","v":3},{"t":"2018/11/27","v":10.6},{"t":"2018/11/28","v":5},{"t":"2018/12/03","v":19.3},{"t":"2018/12/04","v":24.3},{"t":"2018/12/05","v":4},{"t":"2018/12/10","v":13.3},{"t":"2018/12/11","v":2},{"t":"2018/12/14","v":6.9},{"t":"2018/12/15","v":9},{"t":"2018/12/16","v":5},
{"t":"2019/01/03","v":2},{"t":"2019/01/22","v":26.5},{"t":"2019/01/24","v":8},{"t":"2019/01/25","v":20.6},{"t":"2019/01/27","v":4},{"t":"2019/02/09","v":9.4},{"t":"2019/02/18","v":29.4},{"t":"2019/02/19","v":5},{"t":"2019/02/21","v":13.7},{"t":"2019/02/22","v":8},{"t":"2019/02/23","v":10},{"t":"2019/02/25","v":20.7},{"t":"2019/02/26","v":12},{"t":"2019/02/28","v":15.9},{"t":"2019/03/12","v":5},{"t":"2019/03/13","v":2},{"t":"2019/03/20","v":10.2},{"t":"2019/03/21","v":5},{"t":"2019/03/29","v":41.5},{"t":"2019/03/30","v":13.3},{"t":"2019/03/31","v":3},{"t":"2019/04/05","v":13.7},{"t":"2019/04/10","v":3},{"t":"2019/04/11","v":5},{"t":"2019/04/13","v":13.7},{"t":"2019/04/14","v":15},{"t":"2019/04/15","v":45.6},{"t":"2019/04/17","v":20.6},{"t":"2019/04/18","v":8},{"t":"2019/04/21","v":3},{"t":"2019/04/26","v":3},{"t":"2019/05/08","v":83.2},{"t":"2019/05/14","v":2},{"t":"2019/05/16","v":19.6},{"t":"2019/05/23","v":1.5},{"t":"2019/05/25","v":41.5},{"t":"2019/05/26","v":20},{"t":"2019/05/27","v":28},{"t":"2019/05/28","v":23},{"t":"2019/05/29","v":12},{"t":"2019/05/31","v":4},{"t":"2019/06/01","v":43.3},{"t":"2019/06/02","v":5},{"t":"2019/06/05","v":4},{"t":"2019/06/10","v":26.5},{"t":"2019/06/11","v":10},{"t":"2019/06/13","v":15.6},{"t":"2019/06/14","v":8},{"t":"2019/06/15","v":5},{"t":"2019/06/19","v":43.3},{"t":"2019/06/20","v":14.6},{"t":"2019/06/21","v":8},{"t":"2019/06/24","v":8},{"t":"2019/06/26","v":5},{"t":"2019/06/28","v":8},{"t":"2019/06/30","v":41.5},{"t":"2019/07/01","v":9},{"t":"2019/07/03","v":8},{"t":"2019/07/04","v":10},{"t":"2019/07/05","v":5},{"t":"2019/07/07","v":7},{"t":"2019/07/08","v":19.3},{"t":"2019/07/09","v":4},{"t":"2019/07/11","v":20},{"t":"2019/07/12","v":18.3}
]
},
"spacing":36,
"bounds":"flush",
"vconcat":[
{
"width":1002,"height":520,
"encoding":{"x":{"field":"t","type":"temporal","scale":{"domain":[{"year":2016,"month":12,"date":1},{"year":2019,"month":8,"date":30}]},"axis":{"values":[{"year":2016,"month":12,"date":1},{"year":2017,"month":2,"date":1},{"year":2017,"month":4,"date":1},{"year":2017,"month":6,"date":1},{"year":2017,"month":8,"date":1},{"year":2017,"month":10,"date":1},{"year":2017,"month":12,"date":1},{"year":2018,"month":2,"date":1},{"year":2018,"month":4,"date":1},{"year":2018,"month":6,"date":1},{"year":2018,"month":8,"date":1},{"year":2018,"month":10,"date":1},{"year":2018,"month":12,"date":1},{"year":2019,"month":2,"date":1},{"year":2019,"month":4,"date":1},{"year":2019,"month":6,"date":1},{"year":2019,"month":8,"date":1}],"tickCount":40,"labels":false,"ticks":true,"grid":true,"title":null,"domain":false,"labelFlush":false}}},
"layer":[
{"data":{"name":"months"},"mark":{"type":"rule","color":"#A6A6A6","strokeWidth":1.5,"strokeDash":[8,5]},"encoding":{}},
{"data":{"name":"lines"},"mark":{"type":"line","strokeWidth":3},
"encoding":{
"y":{"field":"v","type":"quantitative","scale":{"domain":[22,29],"nice":false,"zero":false},"axis":{"values":[22,23,24,25,26,27,28,29],"tickCount":20,"format":".1f","grid":true,"gridDash":[8,5],"labelFontSize":22,"labelPadding":25,"labelOverlap":false,"title":"地下水位(T.P.m)","titleFontSize":25,"titleX":-113,"titleBaseline":"middle"}},
"color":{"field":"s","type":"nominal","sort":null,"scale":{"domain":["小浜池","西街区北側","西街区南側","B-No.2","B-11","B-9","B-6","B-3"],"range":["#33CC00","#00FFFF","#0000FF","#FF99FF","#FF9900","#00B0F0","#FF0000","#2170B8"]},"legend":null}
}},
{"data":{"name":"pts"},"mark":{"type":"point","filled":true,"size":100,"opacity":1,"strokeWidth":2},
"encoding":{
"y":{"field":"v","type":"quantitative"},
"fill":{"field":"s","type":"nominal","scale":{"domain":["B-3","B-6","B-9","B-11","B-No.2","西街区南側","西街区北側","小浜池","B-3(手測り)","B-6(手測り)","B-7(手測り)","B-9(手測り)","B-11(手測り)","B-14(手測り)","B-No.2(20m)","B-No.2(10m)","市観測井(手測り)","県観測井(手測り)","西街区南側（手測り）","西街区北側（手測り）"],"range":["transparent","transparent","transparent","transparent","transparent","transparent","transparent","transparent","#2170B8","#FF0000","#FFFF00","#00B0F0","#FF9900","#C55A11","#FF99FF","#FF99EE","#00B050","#7030A0","#0000FF","#00FFFF"]},
"legend":{"orient":"none","legendX":-104,"legendY":-170,"direction":"horizontal","title":null,"columns":5,"gridAlign":"all","columnPadding":15,"rowPadding":12.7,"clipHeight":24,"symbolSize":90,"symbolStrokeWidth":3,"symbolOffset":18,"symbolLimit":50,"labelFont":"Noto Sans CJK JP","labelFontSize":16,"labelOffset":19,"labelLimit":300,"labelColor":"#1a1a1a"}},
"stroke":{"field":"s","type":"nominal","scale":{"domain":["B-3","B-6","B-9","B-11","B-No.2","西街区南側","西街区北側","小浜池","B-3(手測り)","B-6(手測り)","B-7(手測り)","B-9(手測り)","B-11(手測り)","B-14(手測り)","B-No.2(20m)","B-No.2(10m)","市観測井(手測り)","県観測井(手測り)","西街区南側（手測り）","西街区北側（手測り）"],"range":["#2170B8","#FF0000","#00B0F0","#FF9900","#FF99FF","#0000FF","#00FFFF","#33CC00","transparent","transparent","#7F7F7F","transparent","transparent","transparent","#595959","#E0E0E0","transparent","transparent","transparent","transparent"]},
"legend":{"orient":"none","legendX":-104,"legendY":-170,"direction":"horizontal","title":null,"columns":5,"gridAlign":"all","columnPadding":15,"rowPadding":12.7,"clipHeight":24,"symbolSize":90,"symbolStrokeWidth":3,"symbolOffset":18,"symbolLimit":50,"labelFont":"Noto Sans CJK JP","labelFontSize":16,"labelOffset":19,"labelLimit":300,"labelColor":"#1a1a1a"}},
"shape":{"field":"s","type":"nominal","scale":{"domain":["B-3","B-6","B-9","B-11","B-No.2","西街区南側","西街区北側","小浜池","B-3(手測り)","B-6(手測り)","B-7(手測り)","B-9(手測り)","B-11(手測り)","B-14(手測り)","B-No.2(20m)","B-No.2(10m)","市観測井(手測り)","県観測井(手測り)","西街区南側（手測り）","西街区北側（手測り）"],"range":["M-5.27,0H5.27","M-5.27,0H5.27","M-5.27,0H5.27","M-5.27,0H5.27","M-5.27,0H5.27","M-5.27,0H5.27","M-5.27,0H5.27","M-5.27,0H5.27","circle","circle","circle","circle","circle","circle","circle","circle","circle","circle","circle","circle"]},
"legend":{"orient":"none","legendX":-104,"legendY":-170,"direction":"horizontal","title":null,"columns":5,"gridAlign":"all","columnPadding":15,"rowPadding":12.7,"clipHeight":24,"symbolSize":90,"symbolStrokeWidth":3,"symbolOffset":18,"symbolLimit":50,"labelFont":"Noto Sans CJK JP","labelFontSize":16,"labelOffset":19,"labelLimit":300,"labelColor":"#1a1a1a"}}
}},
{"data":{"name":"cut"},"mark":{"type":"rule","color":"#FF0000","strokeWidth":4,"strokeDash":[15,9]},"encoding":{}},
{"data":{"values":[{"t":"2019/04/26","v":27.28,"v2":25.66}]},"mark":{"type":"rule","color":"#0000FF","strokeWidth":5},"encoding":{"y":{"field":"v","type":"quantitative"},"y2":{"field":"v2"}}},
{"data":{"values":[{"t":"2019/04/26","v":25.53}]},"mark":{"type":"point","shape":"triangle-down","filled":true,"size":320,"color":"#0000FF","opacity":1},"encoding":{"y":{"field":"v","type":"quantitative"}}},
{"data":{"values":[{"t":"2019/01/30","v":28.5,"label":"2019.4.26"}]},"mark":{"type":"text","font":"Liberation Serif","fontSize":27,"color":"#0000FF","align":"left","baseline":"middle"},"encoding":{"y":{"field":"v","type":"quantitative"},"text":{"field":"label"}}},
{"data":{"values":[{"t":"2019/01/30","v":28.0,"label":"観測期間中の最低水位"}]},"mark":{"type":"text","font":"Noto Sans CJK JP","fontSize":28,"color":"#0000FF","align":"left","baseline":"middle"},"encoding":{"y":{"field":"v","type":"quantitative"},"text":{"field":"label"}}},
{"data":{"values":[{"t":"2018/08/11","v":22.36,"label":"掘削工事期間"}]},"mark":{"type":"text","font":"Noto Sans CJK JP","fontSize":36,"color":"#FF0000","align":"center","baseline":"middle"},"encoding":{"y":{"field":"v","type":"quantitative"},"text":{"field":"label"}}}
]
},
{
"width":1002,"height":216,
"encoding":{"x":{"field":"t","type":"temporal","scale":{"domain":[{"year":2016,"month":12,"date":1},{"year":2019,"month":8,"date":30}]},"axis":{"values":[{"year":2016,"month":12,"date":1},{"year":2017,"month":2,"date":1},{"year":2017,"month":4,"date":1},{"year":2017,"month":6,"date":1},{"year":2017,"month":8,"date":1},{"year":2017,"month":10,"date":1},{"year":2017,"month":12,"date":1},{"year":2018,"month":2,"date":1},{"year":2018,"month":4,"date":1},{"year":2018,"month":6,"date":1},{"year":2018,"month":8,"date":1},{"year":2018,"month":10,"date":1},{"year":2018,"month":12,"date":1},{"year":2019,"month":2,"date":1},{"year":2019,"month":4,"date":1},{"year":2019,"month":6,"date":1},{"year":2019,"month":8,"date":1}],"tickCount":40,"format":"%Y/%m/%d","labelAngle":-90,"labelFontSize":25,"labelPadding":3,"labelOverlap":false,"labelFlush":false,"grid":true,"title":null,"domain":false}}},
"layer":[
{"data":{"name":"months"},"mark":{"type":"rule","color":"#A6A6A6","strokeWidth":1.5,"strokeDash":[8,5]},"encoding":{}},
{"data":{"name":"rain"},"mark":{"type":"bar","size":1.3,"color":"#0000FF"},
"encoding":{
"y":{"field":"v","type":"quantitative","scale":{"domain":[0,120],"nice":false},"axis":{"values":[0,20,40,60,80,100,120],"tickCount":20,"format":".1f","grid":true,"gridDash":[8,5],"labelFontSize":22,"labelPadding":25,"labelOverlap":false,"title":"降水量（mm/日）","titleFontSize":25,"titleX":-113,"titleBaseline":"middle"}}
}},
{"data":{"values":[{"t":"2017/01/22","v":102.2,"label":"降水量（三島）"}]},"mark":{"type":"text","font":"Noto Sans CJK JP","fontSize":22,"color":"#1a1a1a","align":"left","baseline":"middle"},"encoding":{"y":{"field":"v","type":"quantitative"},"text":{"field":"label"}}},
{"data":{"values":[{"t":"2017/01/07","v":102.2}]},"mark":{"type":"square","size":196,"color":"#0000FF","opacity":1},"encoding":{"y":{"field":"v","type":"quantitative"}}},
{"data":{"name":"cut"},"mark":{"type":"rule","color":"#FF0000","strokeWidth":4,"strokeDash":[15,9]},"encoding":{"y":{"datum":-9},"y2":{"datum":140}}},
{"data":{"values":[{"t":"2018/03/31","t2":"2018/12/28"}]},"mark":{"type":"rule","color":"#FF0000","strokeWidth":3},"encoding":{"x2":{"field":"t2"},"y":{"datum":130.6}}},
{"data":{"values":[{"t":"2018/04/05"}]},"mark":{"type":"point","shape":"triangle-left","filled":true,"size":150,"color":"#FF0000","opacity":1},"encoding":{"y":{"datum":130.6}}},
{"data":{"values":[{"t":"2018/12/23"}]},"mark":{"type":"point","shape":"triangle-right","filled":true,"size":150,"color":"#FF0000","opacity":1},"encoding":{"y":{"datum":130.6}}}
]
}
]
}
